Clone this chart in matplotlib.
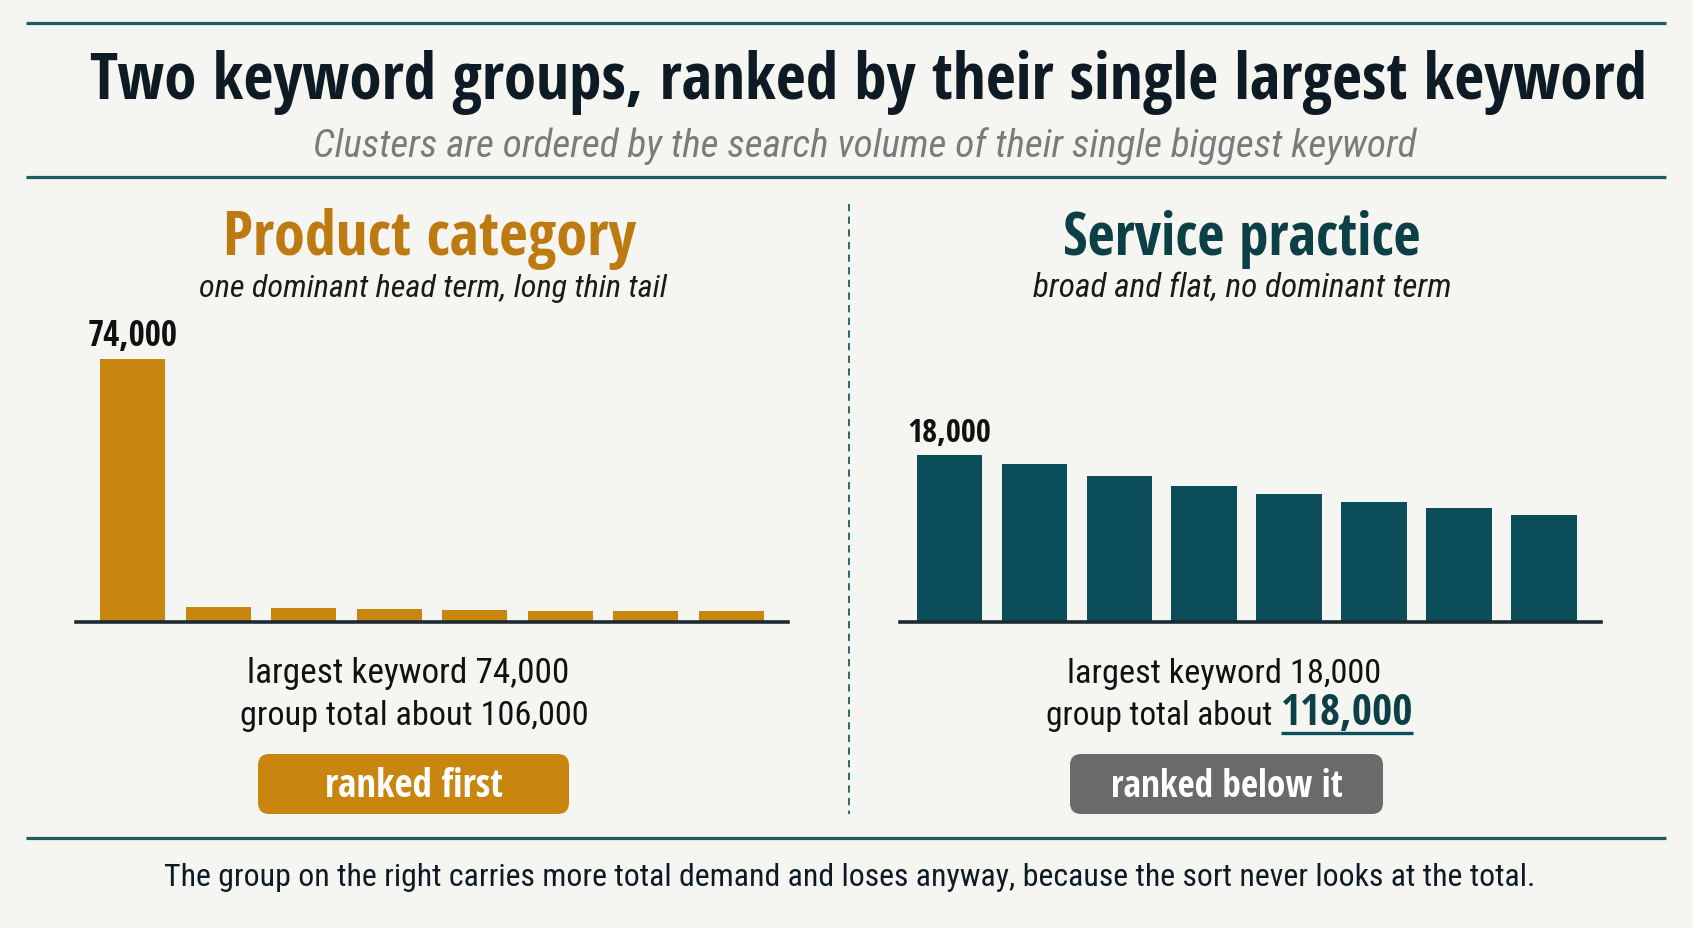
import matplotlib
matplotlib.use("Agg")
import matplotlib.pyplot as plt
from matplotlib import font_manager
from matplotlib.patches import FancyBboxPatch

# data
bar_slots = list(range(8))
product_values = [74000, 4100, 3900, 3600, 3400, 3200, 3100, 3100]
service_values = [18000, 17000, 15700, 14700, 13800, 12900, 12300, 11500]
product_total = 106000
service_total = 118000

title = "Two keyword groups, ranked by their single largest keyword"
subtitle = "Clusters are ordered by the search volume of their single biggest keyword"
footer = ("The group on the right carries more total demand and loses anyway, "
          "because the sort never looks at the total.")

amber = "#c9860e"; amber_dark = "#bd7a10"
teal = "#0b4e5a"; teal_dark = "#0d3f47"; rule = "#1e5c64"
ink = "#0e1a24"; grey_badge = "#6a6a6a"; bg_col = "#f5f5f2"

cands = ["Open Sans Condensed", "Roboto Condensed", "Liberation Sans Narrow",
         "Open Sans", "Noto Sans", "DejaVu Sans"]


def wnum(w):
    return w if isinstance(w, int) else font_manager.weight_dict.get(w, 400)


def pick(style, lo, hi):
    for c in cands:
        for f in font_manager.fontManager.ttflist:
            if f.name == c and f.style == style and lo <= wnum(f.weight) <= hi:
                return c
    return "DejaVu Sans"


f_bold = pick("normal", 600, 900)
f_reg = pick("normal", 350, 500)
f_ital = pick("italic", 350, 500)
plt.rcParams["font.family"] = [f_reg, "DejaVu Sans"]

W, H = 1693, 929
fig = plt.figure(figsize=(W / 100, H / 100), dpi=100, facecolor=bg_col)
bg = fig.add_axes([0, 0, 1, 1])
bg.set_xlim(0, W); bg.set_ylim(H, 0); bg.axis("off")


def fit(t, width):
    # scale font size so the text spans the measured width
    for _ in range(2):
        r = fig.canvas.get_renderer()
        w = t.get_window_extent(r).width
        t.set_fontsize(t.get_fontsize() * width / w)
    return t


def txt(x, y, s, width, kind="reg", **kw):
    kw.setdefault("ha", "center")
    if kind == "bold":
        kw.update(family=f_bold, weight="bold")
    elif kind == "ital":
        kw.update(family=f_ital, style="italic")
    else:
        kw.update(family=f_reg)
    t = bg.text(x, y, s, va="baseline", fontsize=20, **kw)
    return fit(t, width)


# rules and divider
for y in (24, 178, 839):
    bg.plot([26, 1666], [y, y], color=rule, lw=2.3, solid_capstyle="butt")
bg.plot([849, 849], [205, 815], color=rule, lw=1.3, dashes=(4, 3))

txt(868, 99, title, 1557, "bold", color=ink)
txt(865, 157, subtitle, 1106, "ital", color="#7b7b7b")

txt(430, 255, "Product category", 413, "bold", color=amber_dark)
txt(433, 297, "one dominant head term, long thin tail", 468, "ital", color="#1a1a1a")
txt(1242, 255, "Service practice", 358, "bold", color=teal_dark)
txt(1242, 297, "broad and flat, no dominant term", 419, "ital", color="#1a1a1a")


def axes_px(x0, x1, y0, y1):
    return fig.add_axes([x0 / W, 1 - y1 / H, (x1 - x0) / W, (y1 - y0) / H])


ax1 = axes_px(76, 788, 360, 623)
ax2 = axes_px(900, 1601, 360, 623)
for ax, vals, col, xl, top, bw in [(ax1, product_values, amber, (-0.66, 7.66), 74000, 0.76),
                                    (ax2, service_values, teal, (-0.58, 7.67), 28350, 0.77)]:
    ax.bar(bar_slots, vals, width=bw, color=col, zorder=2)
    ax.set_xlim(*xl); ax.set_ylim(0, top)
    ax.axhline(0, color="#1c2b33", lw=2.6, zorder=3, clip_on=False)
    ax.axis("off")
    lab = ax.annotate(f"{max(vals):,}", (bar_slots[0], max(vals)), xytext=(0, 10),
                      textcoords="offset points", ha="center", va="baseline",
                      fontsize=18, family=f_bold, weight="bold", color="#111111",
                      annotation_clip=False)
    fit(lab, 90 if ax is ax1 else 84)

# summary lines
txt(408, 683, f"largest keyword {max(product_values):,}", 322, color="#111111")
txt(414, 725, f"group total about {product_total:,}", 351, color="#111111")
txt(1224, 683, f"largest keyword {max(service_values):,}", 314, color="#111111")
txt(1272, 725, "group total about", 227, ha="right", color="#111111")
txt(1281, 725, f"{service_total:,}", 132, "bold", ha="left", color=teal_dark)
bg.plot([1281, 1413], [734, 734], color=teal, lw=2.4, solid_capstyle="butt")

# badges
for x0, x1, col, s, w in [(258, 569, amber, "ranked first", 178),
                          (1070, 1383, grey_badge, "ranked below it", 233)]:
    bg.add_patch(FancyBboxPatch((x0, 755), x1 - x0, 60, boxstyle="round,pad=0,rounding_size=11",
                                fc=col, ec="none"))
    txt((x0 + x1) / 2, 797, s, w, "bold", color="white")

txt(850, 886, footer, 1370, color=ink)

fig.savefig("out.png", dpi=100, facecolor=bg_col)
